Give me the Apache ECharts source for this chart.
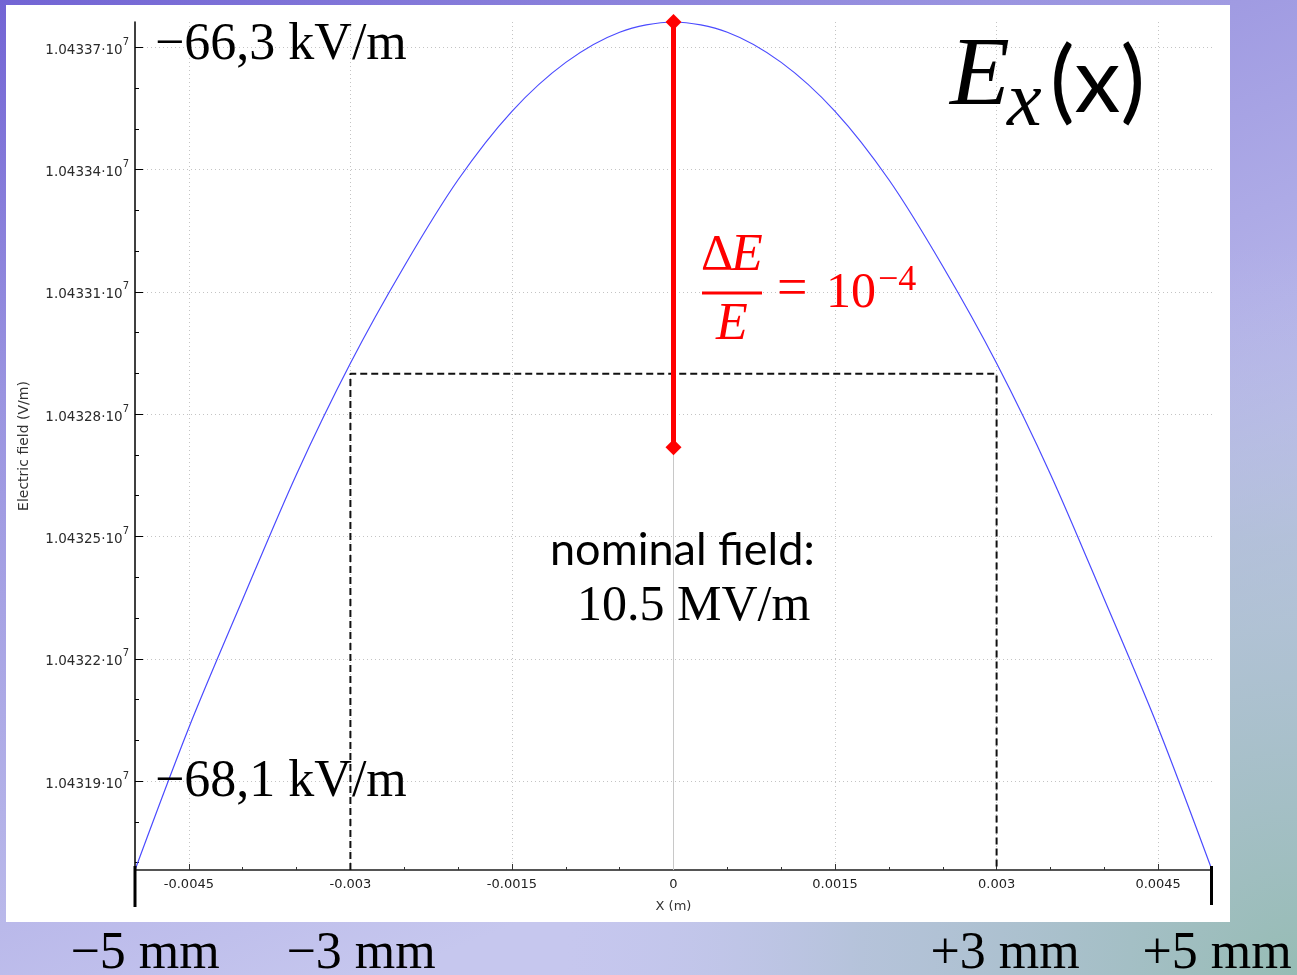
<!DOCTYPE html>
<html>
<head>
<meta charset="utf-8">
<script src="https://cdn.jsdelivr.net/npm/echarts@6/dist/echarts.min.js"></script>
<style>
html,body{margin:0;padding:0;background:#fff;}
#chart{width:1297px;height:975px;}
</style>
</head>
<body>
<div id="chart"></div>
<script>
// ---- data ----
const xPositions = [-0.005, -0.0045, -0.004, -0.0035, -0.003, -0.0025, -0.002, -0.0015, -0.001, -0.0005, 0,
                    0.0005, 0.001, 0.0015, 0.002, 0.0025, 0.003, 0.0035, 0.004, 0.0045, 0.005];
const fieldValues = [10431682, 10432031, 10432346, 10432653, 10432925, 10433163, 10433375, 10433543, 10433663, 10433737, 10433762,
                     10433737, 10433663, 10433543, 10433375, 10433163, 10432925, 10432653, 10432346, 10432031, 10431682];
const xMajorTicks = [-0.0045, -0.003, -0.0015, 0, 0.0015, 0.003, 0.0045];
const yMajorTicks = [10431900, 10432200, 10432500, 10432800, 10433100, 10433400, 10433700];
const xRange = [-0.005, 0.005];
const yRange = [10431682, 10433762];
const deltaBarValues = [10433762, 10432719];   // peak and peak*(1-1e-4)
const windowX = [-0.003, 0.003];
const windowTopValue = 10432899;

// derived
const yMinorTicks = [];
for (let v = 10431700; v <= 10433700; v += 100) yMinorTicks.push(v);
const curve = xPositions.map((x, i) => [x, fieldValues[i]]);
const deltaBar = deltaBarValues.map(v => [0, v]);
const windowRect = [[windowX[0], yRange[0]], [windowX[0], windowTopValue], [windowX[1], windowTopValue], [windowX[1], yRange[0]]];

const tickFont = 'DejaVu Sans';
const serif = '"Liberation Serif", "DejaVu Serif", serif';
const sans = 'Lato, "Open Sans", sans-serif';

function txt(text, x, y, font, fill, align) {
  return { type: 'text', x: x, y: y, z: 100, silent: true,
    style: { text: text, font: font, fill: fill || '#000', align: align || 'left', verticalAlign: 'middle',
             textAlign: align || 'left', textVerticalAlign: 'middle' } };
}

const chart = echarts.init(document.getElementById('chart'), null, { renderer: 'canvas' });
chart.setOption({
  animation: false,
  graphic: [
    { type: 'rect', z: -20, silent: true, shape: { x: 0, y: 0, width: 1297, height: 975 },
      style: { fill: { type: 'linear', x: 0, y: 0, x2: 0.3, y2: 1,
        colorStops: [{ offset: 0, color: '#7264d4' }, { offset: 0.35, color: '#9a94e0' }, { offset: 1, color: '#c6c7ee' }] } } },
    { type: 'rect', z: -19, silent: true, shape: { x: 0, y: 0, width: 1297, height: 975 },
      style: { fill: { type: 'radial', x: 1, y: 1, r: 0.75,
        colorStops: [{ offset: 0, color: 'rgba(150,188,180,1)' }, { offset: 0.6, color: 'rgba(170,192,205,0.6)' }, { offset: 1, color: 'rgba(190,195,235,0)' }] } } },
    { type: 'rect', z: -18, silent: true, shape: { x: 6, y: 5, width: 1224, height: 917 }, style: { fill: '#ffffff' } },
    // black end markers below the x axis
    { type: 'line', z: 50, silent: true, shape: { x1: 135, y1: 866, x2: 135, y2: 907 }, style: { stroke: '#000', lineWidth: 3 } },
    { type: 'line', z: 50, silent: true, shape: { x1: 1211.5, y1: 866, x2: 1211.5, y2: 905 }, style: { stroke: '#000', lineWidth: 3 } },
    txt('\u221266,3 kV/m', 155, 45, '52px ' + serif),
    txt('\u221268,1 kV/m', 155, 782, '52px ' + serif),
    txt('nominal field:', 550, 550, '45px ' + sans),
    txt('10.5 MV/m', 577, 607, '50px ' + serif),
    txt('\u22125 mm', 145, 954, '52px ' + serif, '#000', 'center'),
    txt('\u22123 mm', 361, 954, '52px ' + serif, '#000', 'center'),
    txt('+3 mm', 1005, 954, '52px ' + serif, '#000', 'center'),
    txt('+5 mm', 1217, 954, '52px ' + serif, '#000', 'center'),
    // E_x(x)
    txt('E', 950, 78, 'italic 98px ' + serif),
    txt('x', 1007, 104, 'italic 78px ' + serif),
    txt('(x)', 1050, 82, '92px ' + sans),
    // dE/E = 10^-4
    txt('\u0394', 701, 256, '50px ' + serif, '#ff0000'),
    txt('E', 731, 256, 'italic 52px ' + serif, '#ff0000'),
    { type: 'line', z: 100, silent: true, shape: { x1: 702, y1: 293, x2: 762, y2: 293 }, style: { stroke: '#ff0000', lineWidth: 3 } },
    txt('E', 716, 325, 'italic 52px ' + serif, '#ff0000'),
    txt('=', 777, 291, '54px ' + serif, '#ff0000'),
    txt('10', 826, 294, '50px ' + serif, '#ff0000'),
    txt('\u22124', 878, 281, '36px ' + serif, '#ff0000')
  ],
  grid: { left: 135, right: 85, top: 22, bottom: 105 },
  xAxis: [
    { type: 'value', min: xRange[0], max: xRange[1], interval: 0.0005, position: 'bottom',
      axisLine: { show: true, onZero: false, lineStyle: { color: '#555', width: 2 } },
      axisTick: { show: true, inside: true, length: 3, lineStyle: { color: '#333' } },
      axisLabel: { show: false }, splitLine: { show: false } },
    { type: 'value', min: xRange[0], max: xRange[1], position: 'bottom',
      axisLine: { show: false, onZero: false },
      axisTick: { show: true, inside: true, length: 6, customValues: xMajorTicks, lineStyle: { color: '#333' } },
      axisLabel: { show: true, customValues: xMajorTicks, margin: 8, fontSize: 13, fontFamily: tickFont, color: '#222',
                   formatter: v => String(v) },
      splitLine: { show: true, lineStyle: { type: [1, 3], color: '#c4c4c4', width: 1 } },
      name: 'X (m)', nameLocation: 'middle', nameGap: 30,
      nameTextStyle: { fontSize: 13, fontFamily: tickFont, color: '#333' } }
  ],
  yAxis: [
    { type: 'value', min: yRange[0], max: yRange[1], position: 'left',
      axisLine: { show: true, onZero: false, lineStyle: { color: '#000', width: 1.5 } },
      axisTick: { show: true, inside: true, length: 4, customValues: yMinorTicks, lineStyle: { color: '#000' } },
      axisLabel: { show: false }, splitLine: { show: false } },
    { type: 'value', min: yRange[0], max: yRange[1], position: 'left',
      axisLine: { show: false, onZero: false },
      axisTick: { show: true, inside: true, length: 8, customValues: yMajorTicks, lineStyle: { color: '#000' } },
      axisLabel: { show: true, customValues: yMajorTicks, margin: 6,
        formatter: v => '{m|' + (v / 1e7).toFixed(5) + '\u00b710}{s|7}',
        rich: {
          m: { fontSize: 13.5, fontFamily: tickFont, color: '#2a2a2a', lineHeight: 20, verticalAlign: 'bottom' },
          s: { fontSize: 10, fontFamily: tickFont, color: '#2a2a2a', lineHeight: 20, verticalAlign: 'top' }
        } },
      splitLine: { show: true, lineStyle: { type: [1, 3], color: '#c4c4c4', width: 1 } },
      name: 'Electric field (V/m)', nameLocation: 'middle', nameGap: 104,
      nameTextStyle: { fontSize: 14, fontFamily: tickFont, color: '#333' } }
  ],
  series: [
    { type: 'line', name: 'zero', xAxisIndex: 0, yAxisIndex: 0, data: [], silent: true,
      markLine: { silent: true, symbol: 'none', label: { show: false },
        lineStyle: { color: '#c8c8c8', type: 'solid', width: 1 }, data: [{ xAxis: 0 }] } },
    { type: 'line', name: 'window', xAxisIndex: 0, yAxisIndex: 0, data: windowRect, showSymbol: false, symbol: 'none',
      silent: true, z: 3, lineStyle: { color: '#111', width: 2, type: [7, 4] } },
    { type: 'line', name: 'Ex', xAxisIndex: 0, yAxisIndex: 0, data: curve, smooth: 0.3, showSymbol: false, symbol: 'none',
      silent: true, z: 4, lineStyle: { color: '#4b4bff', width: 1.2 } },
    { type: 'line', name: 'dE', xAxisIndex: 0, yAxisIndex: 0, data: deltaBar, symbol: 'diamond', symbolSize: [16, 16],
      showSymbol: true, silent: true, z: 5, itemStyle: { color: '#ff0000' }, lineStyle: { color: '#ff0000', width: 5 } }
  ]
});
</script>
</body>
</html>
